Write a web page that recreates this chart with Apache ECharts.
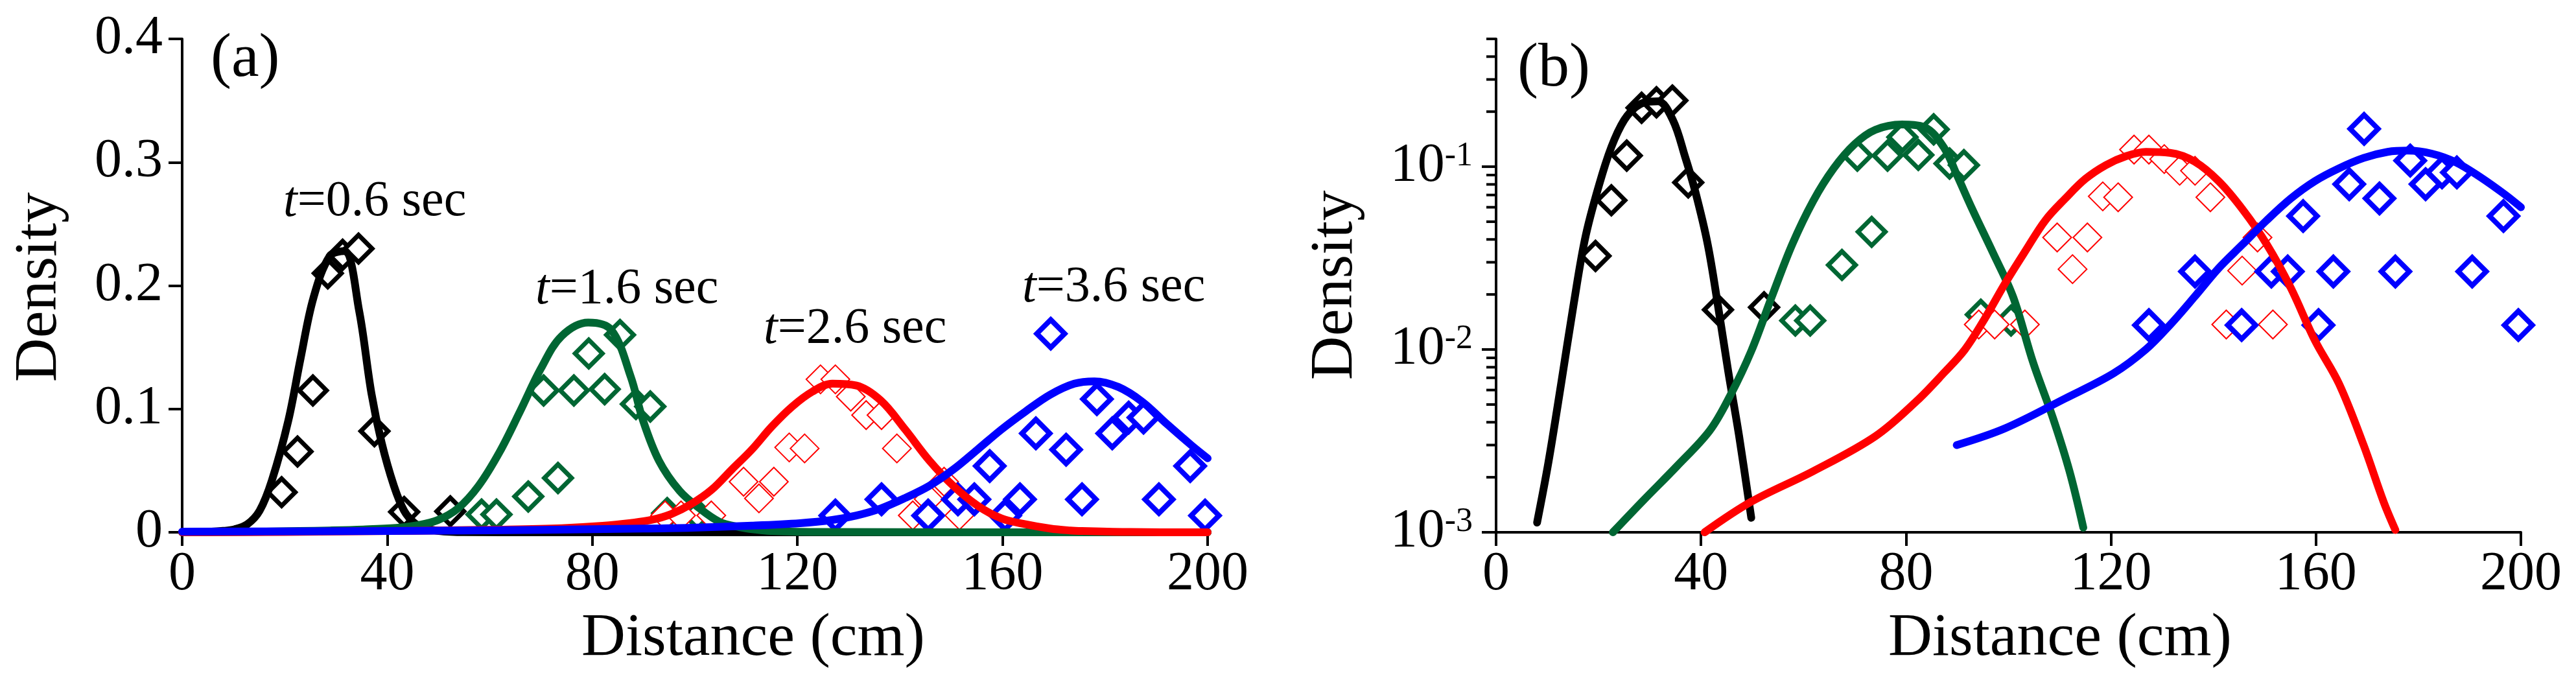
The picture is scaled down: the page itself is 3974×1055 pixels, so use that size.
<!DOCTYPE html>
<html>
<head>
<meta charset="utf-8">
<style>
  html, body { margin: 0; padding: 0; background: #fff; }
  #chart { width: 3974px; height: 1055px; }
</style>
<script src="https://cdn.jsdelivr.net/npm/echarts@6/dist/echarts.min.js"></script>
</head>
<body>
<div id="chart"></div>
<script>
// measured densities (diamonds)
const blackX = [19.4, 22.5, 25.5, 28.4, 31.3, 34.4, 37.5, 43.3, 52.3]
const blackY = [0.0325, 0.0655, 0.115, 0.21, 0.225, 0.23, 0.082, 0.0165, 0.017]
const greenX = [58.4, 61.3, 67.5, 70.5, 73.3, 76.4, 79.3, 82.4, 85.4, 88.5, 91.3, 94.6, 100.5]
const greenY = [0.0144, 0.0144, 0.029, 0.115, 0.044, 0.115, 0.145, 0.116, 0.16, 0.104, 0.102, 0.0155, 0.0144]
const redX = [94.2, 97.3, 103.2, 109.5, 112.5, 115.4, 118.4, 121.4, 124.5, 127.4, 130.4, 133.4, 136.4, 139.4, 142.5, 145.6, 148.6, 151.6]
const redY = [0.0137, 0.0137, 0.0137, 0.041, 0.0275, 0.041, 0.0688, 0.068, 0.124, 0.124, 0.11, 0.095, 0.095, 0.068, 0.0137, 0.027, 0.041, 0.0137]
const blueX = [127.4, 136.4, 145.5, 151.3, 154.5, 157.5, 160.5, 163.4, 166.5, 169.4, 172.4, 175.5, 178.4, 181.4, 184.6, 187.5, 190.5, 196.6, 199.5]
const blueY = [0.0136, 0.0267, 0.0136, 0.0267, 0.0267, 0.0537, 0.0136, 0.0267, 0.0802, 0.161, 0.067, 0.0267, 0.108, 0.0802, 0.093, 0.093, 0.0267, 0.0537, 0.0136]

// model curves
const blackCurveX = [0, 4, 8, 10.2, 12.7, 15.1, 17.5, 20.7, 23.1, 25.6, 28.8, 31.6, 34.5, 36.9, 38.9, 41.3, 43.3, 45.3, 47.4, 49.8, 55, 70, 200]
const blackCurveY = [0, 0.0001, 0.00113, 0.0024, 0.0065, 0.0174, 0.042, 0.0905, 0.141, 0.19, 0.224, 0.228, 0.18, 0.113, 0.0727, 0.0376, 0.0174, 0.0076, 0.0034, 0.0012, 0.0001, 0, 0]
const greenCurveX = [0, 10, 22.8, 28.8, 35.3, 41.7, 45.7, 49.8, 53.8, 57.8, 61.9, 65.9, 70, 74, 79.2, 83.7, 87.5, 89.9, 93, 97, 100.9, 104.8, 108.7, 111.9, 114.6, 125, 200]
const greenCurveY = [0, 0.0002, 0.001, 0.0015, 0.0023, 0.0036, 0.0056, 0.0098, 0.0194, 0.0376, 0.065, 0.098, 0.133, 0.159, 0.17, 0.164, 0.126, 0.0905, 0.058, 0.0337, 0.0194, 0.0085, 0.0042, 0.00216, 0.00106, 0.0002, 0]
const redCurveX = [0, 20, 40.7, 49.8, 61.9, 74, 82, 87.5, 91.5, 95.4, 99.3, 103.3, 107.2, 111.1, 115, 119, 122.9, 126.8, 131.5, 136.3, 141, 145.7, 150.4, 155.1, 159.8, 164.5, 169.3, 173.2, 175.5, 185, 200]
const redCurveY = [0, 0.0003, 0.001, 0.00147, 0.00216, 0.00335, 0.0052, 0.0075, 0.01, 0.0148, 0.0229, 0.0346, 0.0509, 0.067, 0.0857, 0.102, 0.114, 0.1205, 0.119, 0.1067, 0.0834, 0.0583, 0.0376, 0.0217, 0.0112, 0.0065, 0.003, 0.00147, 0.00103, 0.0002, 0]
const blueCurveX = [0, 40, 70, 89.9, 99.3, 111.1, 120.5, 126.8, 131.5, 136.3, 141, 145.7, 150.4, 155.1, 159.8, 164.5, 169.3, 174, 177.9, 182.6, 187.3, 192, 196.8, 200]
const blueCurveY = [0.0005, 0.001, 0.002, 0.003, 0.0037, 0.0054, 0.0074, 0.01, 0.0136, 0.0194, 0.0278, 0.0376, 0.0509, 0.067, 0.0834, 0.098, 0.1116, 0.1205, 0.1224, 0.1178, 0.1057, 0.088, 0.0707, 0.06]
// part of each curve drawn on the log panel
const logCurveRange = [[8, 49.8], [22.8, 114.6], [40.7, 175.5], [89.9, 200]]

const timeLabels = ['0.6', '1.6', '2.6', '3.6']
const xTicks = [0, 40, 80, 120, 160, 200]
const logTickValues = [0.001, 0.002, 0.003, 0.004, 0.005, 0.006, 0.007, 0.008, 0.009,
  0.01, 0.02, 0.03, 0.04, 0.05, 0.06, 0.07, 0.08, 0.09, 0.1, 0.2, 0.3, 0.4, 0.5]
const logMajorTicks = [0.001, 0.01, 0.1]

const serif = '"Liberation Serif", "Times New Roman", serif'
const colors = ['#000000', '#006633', '#ff0000', '#0000ff']
const symbolSizes = [42, 42, 44, 43]
const borderWidths = [7, 7, 2, 8]

const pts = (xs, ys) => xs.map((x, i) => [x, ys[i]])
const curves = [
  pts(blackCurveX, blackCurveY),
  pts(greenCurveX, greenCurveY),
  pts(redCurveX, redCurveY),
  pts(blueCurveX, blueCurveY)
]
const marks = [pts(blackX, blackY), pts(greenX, greenY), pts(redX, redY), pts(blueX, blueY)]

const xAxisBase = (gridIndex) => ({
  gridIndex,
  type: 'value',
  min: xTicks[0],
  max: xTicks[xTicks.length - 1],
  interval: 40,
  axisLine: { show: true, onZero: false, lineStyle: { color: '#000', width: 4 } },
  axisTick: { show: true, length: 21, lineStyle: { color: '#000', width: 4 } },
  axisLabel: { fontSize: 84, fontFamily: serif, color: '#000', margin: 24 },
  splitLine: { show: false }
})

const lineSeries = (axis, data, i) => ({
  type: 'line', xAxisIndex: axis, yAxisIndex: axis, data,
  smooth: 0.35, showSymbol: false, silent: true,
  lineStyle: { color: colors[i], width: 12, cap: 'round', join: 'round', opacity: 1 }
})
const markSeries = (axis, data, i) => ({
  type: 'scatter', xAxisIndex: axis, yAxisIndex: axis, data,
  symbol: 'diamond', symbolSize: symbolSizes[i], silent: true,
  itemStyle: { color: '#fff', borderColor: colors[i], borderWidth: borderWidths[i], opacity: 1 }
})

const series = []
curves.forEach((data, i) => series.push(lineSeries(0, data, i)))
marks.forEach((data, i) => series.push(markSeries(0, data, i)))
curves.forEach((data, i) => {
  const [lo, hi] = logCurveRange[i]
  series.push(lineSeries(1, data.filter(p => p[0] >= lo && p[0] <= hi), i))
})
marks.forEach((data, i) => series.push(markSeries(1, data, i)))
// major and minor ticks of the log axis
series.push({
  type: 'custom', xAxisIndex: 1, yAxisIndex: 1, silent: true, clip: false,
  data: logTickValues.map(v => [0, v]),
  renderItem: (params, api) => {
    const v = logTickValues[params.dataIndex]
    const p = api.coord([0, v])
    const len = logMajorTicks.includes(v) ? 22 : 15
    return {
      type: 'line',
      shape: { x1: p[0] - len, y1: p[1], x2: p[0], y2: p[1] },
      style: { stroke: '#000', lineWidth: 4 }
    }
  }
})

const textEl = (x, y, text, size, extra) => ({
  type: 'text', x, y, silent: true,
  style: Object.assign({
    text, fill: '#000', fontSize: size, fontFamily: serif, align: 'left', verticalAlign: 'middle'
  }, extra || {})
})
const annPos = [[437, 312], [826, 447], [1178, 508], [1577, 444]]

const option = {
  backgroundColor: '#fff',
  animation: false,
  grid: [
    { left: 281, top: 60, width: 1582, height: 761 },
    { left: 2308, top: 60, width: 1581, height: 761 }
  ],
  xAxis: [xAxisBase(0), xAxisBase(1)],
  yAxis: [
    {
      gridIndex: 0, type: 'value', min: 0, max: 0.4, interval: 0.1,
      axisLine: { show: true, lineStyle: { color: '#000', width: 4 } },
      axisTick: { show: true, length: 21, lineStyle: { color: '#000', width: 4 } },
      axisLabel: {
        fontSize: 84, fontFamily: serif, color: '#000', margin: 30,
        formatter: v => (v === 0 ? '0' : v.toFixed(1))
      },
      splitLine: { show: false }
    },
    {
      gridIndex: 1, type: 'log', logBase: 10, min: 0.001, max: 0.5,
      axisLine: { show: true, lineStyle: { color: '#000', width: 4 } },
      axisTick: { show: false },
      axisLabel: {
        color: '#000', margin: 36,
        formatter: v => {
          const e = Math.round(Math.log10(v))
          if (Math.abs(Math.log10(v) - e) > 1e-6) return ''
          return '{b|10}{s|' + e + '}'
        },
        rich: {
          b: { fontSize: 84, fontFamily: serif, color: '#000', lineHeight: 84 },
          s: { fontSize: 52, fontFamily: serif, color: '#000', lineHeight: 30, verticalAlign: 'top' }
        }
      },
      splitLine: { show: false }
    }
  ],
  graphic: [
    textEl(325, 92, '(a)', 96),
    textEl(2341, 107, '(b)', 96),
    textEl(61, 443, 'Density', 94, { align: 'center' }),
    textEl(2060, 440, 'Density', 94, { align: 'center' }),
    textEl(1162, 985, 'Distance (cm)', 94, { align: 'center' }),
    textEl(3178, 985, 'Distance (cm)', 94, { align: 'center' })
  ].map((el, i) => (i === 2 || i === 3 ? Object.assign(el, { rotation: Math.PI / 2 }) : el))
    .concat(timeLabels.map((t, i) => textEl(annPos[i][0], annPos[i][1], '{i|t}=' + t + ' sec', 78, {
      rich: { i: { fontStyle: 'italic', fontSize: 78, fontFamily: serif, fill: '#000', color: '#000' } }
    }))),
  series
}

const chart = echarts.init(document.getElementById('chart'))
chart.setOption(option)
</script>
</body>
</html>
